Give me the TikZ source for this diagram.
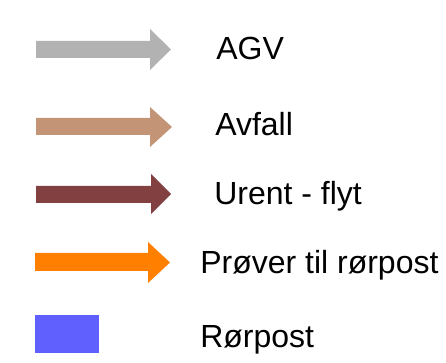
\documentclass[tikz,border=0pt]{standalone}
\usepackage{fontspec}
\setmainfont{Liberation Sans}
\usetikzlibrary{arrows.meta}
\definecolor{agvgray}{RGB}{178,178,178}
\definecolor{avfalltan}{RGB}{195,149,118}
\definecolor{urentbrown}{RGB}{130,64,64}
\definecolor{proveorange}{RGB}{255,128,0}
\definecolor{postblue}{RGB}{96,96,255}

\begin{document}
\begin{tikzpicture}[x=0.75pt,y=-0.75pt]
\useasboundingbox (0,0) rectangle (446,363);

\begin{scope}
    \fill[agvgray] (36,41) -- (150,41) -- (150,29) -- (171,49.5) -- (150,70) -- (150,58) -- (36,58) -- cycle;
    \fill[avfalltan] (36,118) -- (150,118) -- (150,107) -- (172,127) -- (150,147) -- (150,135) -- (36,135) -- cycle;
    \fill[urentbrown] (36,186) -- (151,186) -- (151,174) -- (171,194) -- (151,214) -- (151,203) -- (36,203) -- cycle;
    \fill[proveorange] (35,253) -- (148,253) -- (148,242) -- (170,262.5) -- (148,283) -- (148,271) -- (35,271) -- cycle;
    \fill[postblue] (35,315) rectangle (99,353);
\end{scope}

\begin{scope}[every node/.style={anchor=base west, inner sep=0pt,
              font=\fontsize{24}{29}\selectfont}]
    \node (agv) at (216,60) {AGV};
    \node (avfall) at (215,136) {Avfall};
    \node (urent) at (214,205) {Urent - flyt};
    \node (prover) at (200,274) {Prøver til rørpost};
    \node (rorpost) at (200,347) {Rørpost};
\end{scope}
\end{tikzpicture}
\end{document}
